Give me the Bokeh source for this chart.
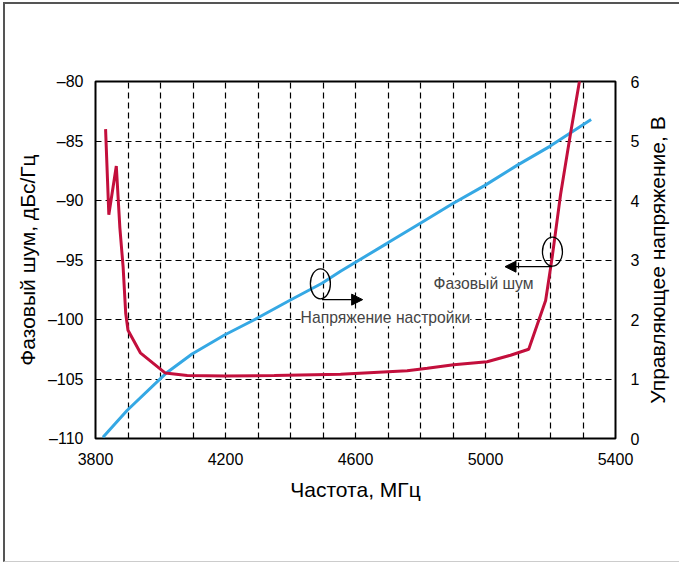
import math
from bokeh.plotting import figure
from bokeh.layouts import row
from bokeh.models import (LinearAxis, Range1d, FixedTicker, SingleIntervalTicker,
                          CustomJSTickFormatter, Arrow, NormalHead, Label, Title)
from bokeh.embed import file_html
from bokeh.resources import INLINE

# Phase noise (left axis), dBc/Hz
noise_freq = [3831, 3841, 3864, 3875, 3885, 3893, 3900, 3938, 4015, 4082, 4200, 4350,
              4554, 4759, 4821, 4902, 5005, 5077, 5133, 5185, 5205, 5231, 5262, 5289, 5300]
noise_db = [-84.0, -91.2, -87.1, -92.3, -95.6, -99.5, -100.9, -102.8, -104.5, -104.7, -104.75, -104.7,
            -104.6, -104.3, -104.1, -103.8, -103.55, -103.0, -102.5, -98.4, -94.8, -89.5, -84.3, -80.0, -78.5]

# Tuning voltage (right axis), V
volt_freq = [3823, 3897, 4020, 4097, 4197, 4297, 4397, 4497, 4554, 4697, 4797, 4897,
             4997, 5097, 5198, 5325]
volt_v = [0.02, 0.47, 1.11, 1.42, 1.74, 2.02, 2.32, 2.61, 2.81, 3.28, 3.61, 3.94,
          4.25, 4.59, 4.91, 5.36]

x_ticks = [3800, 4200, 4600, 5000, 5400]
left_ticks = [-110, -105, -100, -95, -90, -85, -80]
right_ticks = [0, 1, 2, 3, 4, 5, 6]

FONT = "Liberation Sans"
TICK_SIZE = "16px"
LABEL_SIZE = "21px"

p = figure(width=640, height=560, output_backend="svg", toolbar_location=None,
           x_range=Range1d(3800, 5400), y_range=Range1d(-110, -80),
           min_border_left=90, min_border_right=30, min_border_top=77, min_border_bottom=126)
p.styles = {"border-left": "2px solid #555555", "border-top": "2px solid #555555",
            "border-bottom": "1px solid #cccccc", "margin-left": "3px", "margin-top": "2px"}
p.extra_y_ranges = {"v": Range1d(0, 6)}

p.outline_line_color = "black"
p.outline_line_width = 2

fmt = CustomJSTickFormatter(code="return tick < 0 ? '\u2013' + Math.abs(tick) : '' + tick;")


def style_axis(ax):
    ax.axis_line_color = None
    ax.major_tick_line_color = None
    ax.minor_tick_line_color = None
    ax.major_label_text_font = FONT
    ax.major_label_text_font_size = TICK_SIZE
    ax.major_label_text_color = "black"
    ax.axis_label_text_font = FONT
    ax.axis_label_text_font_size = LABEL_SIZE
    ax.axis_label_text_font_style = "normal"
    ax.axis_label_text_color = "black"


style_axis(p.xaxis[0])
style_axis(p.yaxis[0])

p.xaxis[0].ticker = FixedTicker(ticks=x_ticks)
p.xaxis[0].axis_label = "Частота, МГц"
p.xaxis[0].major_label_standoff = 8
p.xaxis[0].axis_label_standoff = 10
p.yaxis[0].ticker = FixedTicker(ticks=left_ticks)
p.yaxis[0].formatter = fmt
p.yaxis[0].axis_label = "Фазовый шум, дБс/Гц"
p.yaxis[0].major_label_standoff = 6
p.yaxis[0].axis_label_standoff = 6

# right axis with the voltage ticks
ry = LinearAxis(y_range_name="v", ticker=FixedTicker(ticks=right_ticks))
style_axis(ry)
ry.major_label_standoff = 9
p.add_layout(ry, "right")

p.xgrid.ticker = SingleIntervalTicker(interval=100)
p.ygrid.ticker = SingleIntervalTicker(interval=5)
for g in [p.xgrid[0], p.ygrid[0]]:
    g.grid_line_color = "black"
    g.grid_line_dash = "6 4"
    g.grid_line_width = 1.2

p.line(volt_freq, volt_v, y_range_name="v", line_color="#35A8E4", line_width=3)
p.line(noise_freq, noise_db, line_color="#C30F3C", line_width=3)

# annotations
p.ellipse(x=[4492], y=[-97.0], width=20, height=30, width_units="screen", height_units="screen",
          fill_color=None, line_color="black", line_width=1.3)
p.ellipse(x=[5206], y=[-94.3], width=20, height=29, width_units="screen", height_units="screen",
          fill_color=None, line_color="black", line_width=1.3)
p.add_layout(Arrow(x_start=4497, y_start=-98.33, x_end=4622, y_end=-98.33, line_width=1.3,
                   end=NormalHead(size=11, fill_color="black", line_color="black")))
p.add_layout(Arrow(x_start=5205, y_start=-95.56, x_end=5060, y_end=-95.56, line_width=1.3,
                   end=NormalHead(size=11, fill_color="black", line_color="black")))
p.add_layout(Label(x=4692, y=-99.85, text="Напряжение настройки", text_font=FONT,
                   text_font_size="15.7px", text_align="center", text_baseline="middle",
                   background_fill_color="white"))
p.add_layout(Label(x=4994, y=-97.0, text="Фазовый шум", text_font=FONT,
                   text_font_size="15.7px", text_align="center", text_baseline="middle",
                   background_fill_color="white"))

# narrow companion figure that carries the right-hand title, reading bottom-to-top
p2 = figure(width=36, height=560, output_backend="svg", toolbar_location=None,
            x_range=Range1d(0, 1), y_range=Range1d(0, 1),
            min_border_left=0, min_border_right=0, min_border_top=77, min_border_bottom=126)
p2.styles = {"border-top": "2px solid #555555", "border-bottom": "1px solid #cccccc",
             "margin-top": "2px"}
p2.xaxis.visible = False
p2.yaxis.visible = False
p2.xgrid.visible = False
p2.ygrid.visible = False
p2.outline_line_color = None
p2.add_layout(Title(text="Управляющее напряжение, В", align="center", text_font=FONT,
                    text_font_size=LABEL_SIZE, text_font_style="normal", text_color="black",
                    standoff=0), "left")

layout = row(p, p2)
layout.spacing = 0

open("out.html", "w").write(file_html(layout, INLINE))
